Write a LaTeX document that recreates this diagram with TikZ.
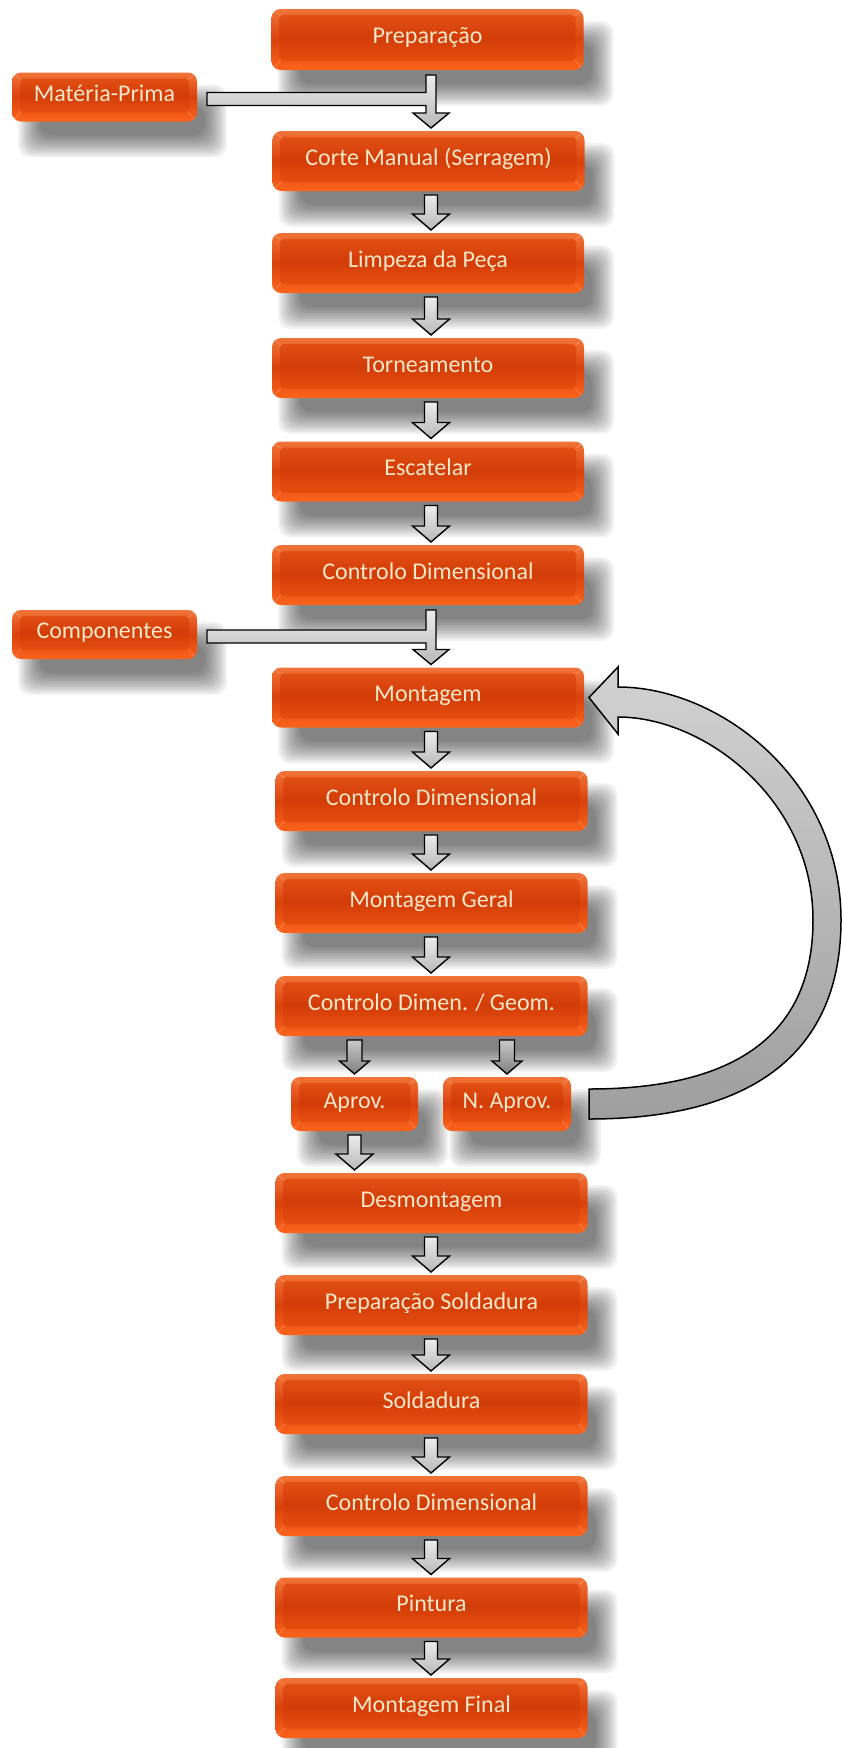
\documentclass[tikz,border=0pt]{standalone}
\usepackage{fontspec}
\setmainfont{Carlito}
\usetikzlibrary{calc}

\pgfdeclarelayer{paper}
\pgfdeclarelayer{shadows}
\pgfsetlayers{paper,shadows,main}

\definecolor{boxtext}{RGB}{252,232,200}
\definecolor{bevtop}{RGB}{242,116,56}
\definecolor{bevmid}{RGB}{218,66,12}
\definecolor{bevbot}{RGB}{252,100,28}
\definecolor{facetop}{RGB}{226,80,20}
\definecolor{facemid}{RGB}{210,60,8}
\definecolor{facebot}{RGB}{230,78,16}
\definecolor{arrtop}{RGB}{236,236,236}
\definecolor{arrbot}{RGB}{184,184,184}
\definecolor{splittop}{RGB}{200,200,200}
\definecolor{splitbot}{RGB}{128,128,128}
\definecolor{looptop}{RGB}{210,210,210}
\definecolor{loopbot}{RGB}{158,158,158}

\tikzset{
  stage/.style={rectangle, rounded corners=9pt, minimum width=312pt, minimum height=60pt,
    inner sep=0pt, outer sep=0pt, text=boxtext,
    font=\fontsize{24}{26}\selectfont, text height=15.5pt, text depth=7.5pt,
    top color=bevtop, bottom color=bevbot, middle color=bevmid,
    path picture={
      \path (path picture bounding box.south west) coordinate (bv-sw)
            (path picture bounding box.north east) coordinate (bv-ne)
            (path picture bounding box.north west) coordinate (bv-nw)
            (path picture bounding box.south east) coordinate (bv-se);
      \shade[top color=facetop, bottom color=facebot, middle color=facemid, rounded corners=4pt]
        ($(bv-sw)+(8,-9)$) rectangle ($(bv-ne)+(-8,6)$);
      \draw[white, opacity=0.22, line width=0.8pt]
        ($(bv-nw)+(2,2)$) -- ($(bv-nw)+(9,7)$)
        ($(bv-ne)+(-2,2)$) -- ($(bv-ne)+(-9,7)$)
        ($(bv-sw)+(2,-2)$) -- ($(bv-sw)+(9,-10)$)
        ($(bv-se)+(-2,-2)$) -- ($(bv-se)+(-9,-10)$);
    }},
  feeder/.style={stage, minimum width=185pt, minimum height=49pt},
  verdict/.style={stage, minimum height=54pt},
  softshadow/.style={black, opacity=0.05, rounded corners=12pt},
  blockarrow/.style={draw=black, line width=1.4pt, line join=miter,
    top color=arrtop, bottom color=arrbot},
  splitarrow/.style={blockarrow, top color=splittop, bottom color=splitbot},
  looparrow/.style={draw=black, line width=1.5pt, line join=miter,
    top color=looptop, bottom color=loopbot}
}

% down arrow between two stages: upper, lower, column, stem half width,
% head half width, head length, style
\newcommand\stepdown[7]{%
  \coordinate (sd-a) at ($(#1.south -| #3)+(0,4)$);
  \coordinate (sd-b) at ($(#2.north -| #3)+(0,-3)$);
  \draw[#7] ($(sd-a)+(-#4,0)$) -- ($(sd-a)+(#4,0)$) -- ($(sd-b)+(#4,-#6)$)
    -- ($(sd-b)+(#5,-#6)$) -- (sd-b) -- ($(sd-b)+(-#5,-#6)$)
    -- ($(sd-b)+(-#4,-#6)$) -- cycle;}

% T-shaped arrow: feeder box joins the flow between two stages
\newcommand\feedin[4]{%
  \coordinate (fi-a) at ($(#2.south -| #4)+(0,5)$);
  \coordinate (fi-b) at ($(#3.north -| #4)+(0,-3)$);
  \coordinate (fi-c) at ($(#1.east)+(10,2)$);
  \draw[blockarrow] ($(fi-c)+(0,-6.5)$) -- ($(fi-c -| fi-a)+(-5,-6.5)$)
    -- ($(fi-a)+(-5,0)$) -- ($(fi-a)+(5,0)$) -- ($(fi-b)+(5,-15)$)
    -- ($(fi-b)+(18,-15)$) -- (fi-b) -- ($(fi-b)+(-18,-15)$)
    -- ($(fi-b)+(-5,-15)$) -- ($(fi-c -| fi-a)+(-5,6.5)$)
    -- ($(fi-c)+(0,6.5)$) -- cycle;}

\begin{document}
\begin{tikzpicture}[x=1pt, y=-1pt]
\begin{pgfonlayer}{paper}
\fill[white] (0,0) rectangle (842,1748);
\end{pgfonlayer}
\useasboundingbox (0,0) rectangle (842,1748);

% feeders
\node[feeder] (mp) at (104.5,97) {Matéria-Prima};
\node[feeder] (comp) at (104.5,634.5) {Componentes};

% main flow
\node[stage, minimum height=61pt] (prep) at (427.5,39.5) {Preparação};
\node[stage] (corte) at (428.5,161) {Corte Manual (Serragem)};
\node[stage] (limp) at (428,263) {Limpeza da Peça};
\node[stage] (torn) at (428,368) {Torneamento};
\node[stage] (esc) at (428,471.5) {Escatelar};
\node[stage] (cd1) at (428,575) {Controlo Dimensional};
\node[stage] (mont) at (428,697.5) {Montagem};
\node[stage] (cd2) at (431.5,801) {Controlo Dimensional};
\node[stage] (mg) at (431.5,903) {Montagem Geral};
\node[stage] (cdg) at (431.5,1006) {Controlo Dimen. / Geom.};
\node[verdict, minimum width=127pt] (apr) at (354.5,1104) {Aprov.};
\node[verdict, minimum width=128pt] (napr) at (507,1104) {N. Aprov.};
\node[stage] (desm) at (431.5,1203) {Desmontagem};
\node[stage] (prs) at (431.5,1305) {Preparação Soldadura};
\node[stage] (sold) at (431.5,1404) {Soldadura};
\node[stage] (cd3) at (431.5,1506) {Controlo Dimensional};
\node[stage] (pint) at (431.5,1607.5) {Pintura};
\node[stage] (mfin) at (431.5,1708) {Montagem Final};

% soft drop shadows under every box
\begin{pgfonlayer}{shadows}
\foreach \n in {mp,comp,prep,corte,limp,torn,esc,cd1,mont,cd2,mg,cdg,apr,napr,desm,prs,sold,cd3,pint,mfin}{
  \foreach \e in {-10,-8,...,12}{
    \fill[softshadow] ($(\n.north west)+(18-\e,24-\e)$) rectangle ($(\n.south east)+(18+\e,24+\e)$);
  }
}
\end{pgfonlayer}

\coordinate (col) at (431,0);

% connectors
\feedin{mp}{prep}{corte}{col}
\stepdown{corte}{limp}{col}{6.5}{18.5}{16}{blockarrow}
\stepdown{limp}{torn}{col}{6.5}{18.5}{16}{blockarrow}
\stepdown{torn}{esc}{col}{6.5}{18.5}{16}{blockarrow}
\stepdown{esc}{cd1}{col}{6.5}{18.5}{16}{blockarrow}
\feedin{comp}{cd1}{mont}{col}
\stepdown{mont}{cd2}{col}{6.5}{18.5}{16}{blockarrow}
\stepdown{cd2}{mg}{col}{6.5}{18.5}{16}{blockarrow}
\stepdown{mg}{cdg}{col}{6.5}{18.5}{16}{blockarrow}
\stepdown{cdg}{apr}{apr}{7.5}{15}{13}{splitarrow}
\stepdown{cdg}{napr}{napr}{7.5}{15}{13}{splitarrow}
\stepdown{apr}{desm}{apr}{6.5}{18.5}{16}{blockarrow}
\stepdown{desm}{prs}{col}{6.5}{18.5}{16}{blockarrow}
\stepdown{prs}{sold}{col}{6.5}{18.5}{16}{blockarrow}
\stepdown{sold}{cd3}{col}{6.5}{18.5}{16}{blockarrow}
\stepdown{cd3}{pint}{col}{6.5}{18.5}{16}{blockarrow}
\stepdown{pint}{mfin}{col}{6.5}{18.5}{16}{blockarrow}

% rework loop from N. Aprov. back to Montagem
\coordinate (ct) at ($(napr.east)+(18,0)$);
\coordinate (ch) at ($(mont.east)+(5,0)$);
\draw[looparrow] ($(ct)+(0,15)$)
  .. controls ($(ct)+(166,15)$) and ($(ct)+(252,-53)$) .. ($(ct)+(252,-184)$)
  .. controls ($(ch)+(252,82.5)$) and ($(ch)+(131,-10.5)$) .. ($(ch)+(29,-10.5)$)
  -- ($(ch)+(29,-30.5)$) -- (ch) -- ($(ch)+(29,36.5)$) -- ($(ch)+(29,19.5)$)
  .. controls ($(ch)+(116,19.5)$) and ($(ch)+(224,102.5)$) .. ($(ct)+(224,-184)$)
  .. controls ($(ct)+(224,-69)$) and ($(ct)+(146,-15)$) .. ($(ct)+(0,-15)$)
  -- cycle;
\end{tikzpicture}
\end{document}
